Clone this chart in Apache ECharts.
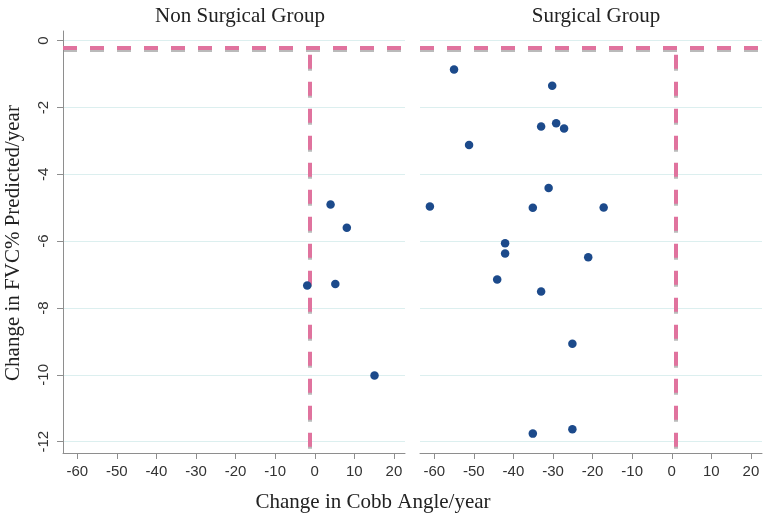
<!DOCTYPE html>
<html>
<head>
<meta charset="utf-8">
<script src="https://cdn.jsdelivr.net/npm/echarts@6/dist/echarts.min.js"></script>
<style>
html,body{margin:0;padding:0;background:#fff;}
#chart{width:767px;height:513px;}
</style>
</head>
<body>
<div id="chart"></div>
<script>
// ---- data ----
const panelTitles = ['Non Surgical Group', 'Surgical Group'];
const xAxisTitle = 'Change in Cobb Angle/year';
const yAxisTitle = 'Change in FVC% Predicted/year';

const nonSurgX = [4.0, 8.1, -1.9, 5.2, 15.1];
const nonSurgY = [-4.9, -5.6, -7.33, -7.28, -10.02];

const surgX = [-55.0, -30.2, -33.0, -29.2, -27.2, -51.2, -61.1, -35.1, -31.1, -17.2, -42.1, -42.1, -21.1, -44.1, -33.0, -25.1, -35.1, -25.1];
const surgY = [-0.86, -1.35, -2.57, -2.47, -2.63, -3.12, -4.96, -5.00, -4.41, -4.99, -6.06, -6.37, -6.48, -7.15, -7.51, -9.07, -11.76, -11.63];

const xTicks = [-60, -50, -40, -30, -20, -10, 0, 10, 20];
const yTicks = [0, -2, -4, -6, -8, -10, -12];
const xRange = [-63.6, 22.8];
const yRange = [-12.34, 0.29];

// reference lines: horizontal y value, vertical x value per panel, vertical start
const refY = -0.2;
const refX = [-1.3, 1.1];
const refXStart = -0.42;

// ---- chart ----
const chart = echarts.init(document.getElementById('chart'));
const serif = 'Liberation Serif';
const sans = 'Liberation Sans';
const markerColor = '#1c4a8b';
const refLineStyle = {
  color: '#e0739e',
  width: 4,
  type: [14, 13],
  cap: 'butt',
  shadowColor: 'rgba(140,140,140,0.6)',
  shadowOffsetY: 2,
  shadowBlur: 0,
  opacity: 1
};

const grids = [
  { left: 63, top: 31, width: 342, height: 422 },
  { left: 420, top: 31, width: 342, height: 422 }
];

function xAxisDef(i) {
  return {
    type: 'value', gridIndex: i, min: xRange[0], max: xRange[1],
    axisLine: { show: true, onZero: false, lineStyle: { color: '#8e8e8e', width: 1 } },
    axisTick: { show: true, length: 6, customValues: xTicks, lineStyle: { color: '#8e8e8e' } },
    axisLabel: { show: true, customValues: xTicks, margin: 11, fontFamily: sans, fontSize: 15, color: '#333' },
    splitLine: { show: false }
  };
}
function yAxisDef(i) {
  return {
    type: 'value', gridIndex: i, min: yRange[0], max: yRange[1],
    axisLine: { show: i === 0, onZero: false, lineStyle: { color: '#8e8e8e', width: 1 } },
    axisTick: { show: i === 0, length: 6, customValues: yTicks, lineStyle: { color: '#8e8e8e' } },
    axisLabel: { show: i === 0, customValues: yTicks, rotate: 90, margin: 12, fontFamily: sans, fontSize: 15, color: '#333' },
    splitLine: { show: true, lineStyle: { color: '#dcefef', width: 1 } }
  };
}

function makeSeries(i, xs, ys) {
  return {
    type: 'scatter', xAxisIndex: i, yAxisIndex: i,
    data: xs.map((x, k) => [x, ys[k]]),
    symbolSize: 8.5,
    itemStyle: { color: markerColor, opacity: 1 },
    z: 5,
    markLine: {
      silent: true, symbol: 'none', animation: false,
      label: { show: false },
      lineStyle: refLineStyle,
      emphasis: { disabled: true },
      data: [
        { yAxis: refY },
        [{ coord: [refX[i], refXStart] }, { coord: [refX[i], yRange[0]] }]
      ]
    }
  };
}

chart.setOption({
  animation: false,
  backgroundColor: '#fff',
  title: [
    { text: panelTitles[0], left: 235, top: 1, textAlign: 'center',
      textStyle: { fontFamily: serif, fontWeight: 'normal', fontSize: 21, color: '#222' } },
    { text: panelTitles[1], left: 591, top: 1, textAlign: 'center',
      textStyle: { fontFamily: serif, fontWeight: 'normal', fontSize: 21, color: '#222' } }
  ],
  grid: grids,
  xAxis: [xAxisDef(0), xAxisDef(1)],
  yAxis: [yAxisDef(0), yAxisDef(1)],
  series: [makeSeries(0, nonSurgX, nonSurgY), makeSeries(1, surgX, surgY)],
  graphic: [
    { type: 'text', x: 373, y: 502, style: { text: xAxisTitle, fontFamily: serif, fontSize: 21, fill: '#222', align: 'center', verticalAlign: 'middle' } },
    { type: 'text', x: 13, y: 243, rotation: Math.PI / 2, style: { text: yAxisTitle, fontFamily: serif, fontSize: 21, fill: '#222', align: 'center', verticalAlign: 'middle' } }
  ]
});
</script>
</body>
</html>
